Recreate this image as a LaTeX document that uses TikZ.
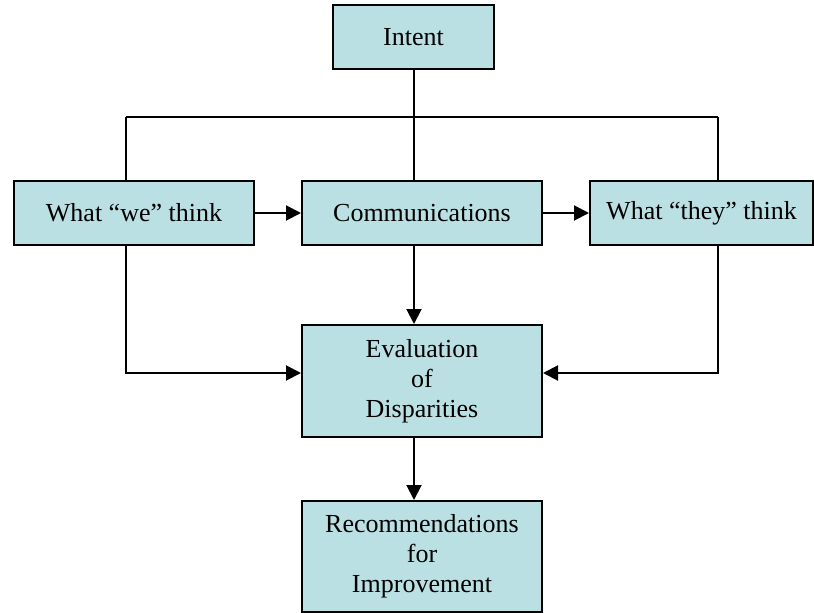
\documentclass[tikz,border=0pt]{standalone}
\usepackage{fontspec}
\setmainfont{Liberation Serif}
\usetikzlibrary{arrows.meta}
\definecolor{boxfill}{HTML}{BBE0E3}
\begin{document}
\begin{tikzpicture}[x=1pt,y=-1pt,
  box/.style={draw=black, line width=2pt, fill=boxfill, inner sep=0pt,
    align=center, font=\fontsize{26}{30}\selectfont, minimum height=64pt},
  conn/.style={line width=2pt},
  arr/.style={line width=2pt, -{Triangle[length=15pt,width=15pt]}}]
\useasboundingbox (0,0) rectangle (814,613);
\node[box, minimum width=161pt] (intent) at (413.5,37) {Intent};
\node[box, minimum width=240pt] (we) at (134,213) {What “we” think};
\node[box, minimum width=240pt] (comm) at (422,213) {Communications};
\node[box, minimum width=223pt] (they) at (701.5,213) {What “they” think};
\node[box, minimum width=240pt, minimum height=112pt] (eval) at (422,381) {Evaluation\\of\\Disparities};
\node[box, minimum width=240pt, minimum height=111pt] (rec) at (422,556.5) {Recommendations\\for\\Improvement};
\coordinate (jl) at (126,117);
\coordinate (jr) at (718,117);
\coordinate (cx) at (414,0);
\coordinate (ya) at (0,373);
\draw[conn] (intent.south) -- (intent.south |- comm.north);
\draw[conn] (jl) -- (jr);
\draw[conn] (jl) -- (jl |- we.north);
\draw[conn] (jr) -- (jr |- they.north);
\draw[arr] (we.east) -- (comm.west);
\draw[arr] (comm.east) -- (they.west);
\draw[arr] (cx |- comm.south) -- (cx |- eval.north);
\draw[arr] (cx |- eval.south) -- (cx |- rec.north);
\draw[arr] (jl |- we.south) -- (jl |- ya) -- (eval.west |- ya);
\draw[arr] (jr |- they.south) -- (jr |- ya) -- (eval.east |- ya);
\end{tikzpicture}
\end{document}
